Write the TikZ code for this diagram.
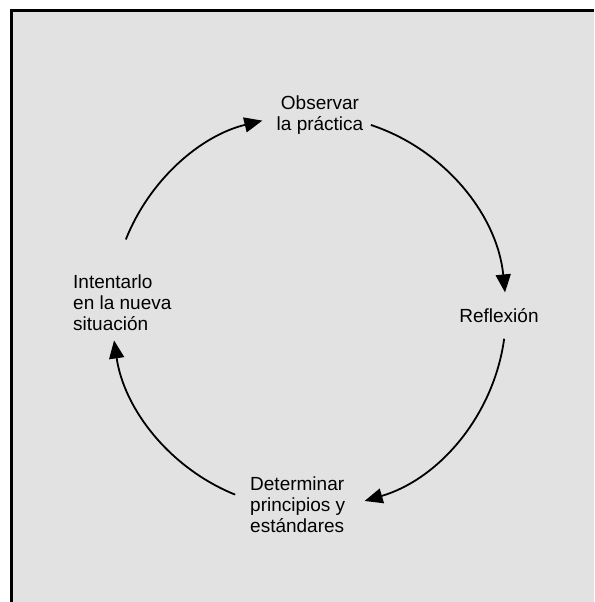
\documentclass[tikz,border=0pt]{standalone}
\usepackage{fontspec}
\setmainfont{Liberation Sans}
\usetikzlibrary{arrows.meta,calc}
\definecolor{bg}{HTML}{E2E2E2}
\begin{document}
\begin{tikzpicture}[x=1pt,y=1pt,
  lbl/.style={inner sep=0pt, font=\fontsize{19}{21}\selectfont},
  conn/.style={line width=1.8pt, -{Triangle[length=18pt,width=15pt]}}]
\useasboundingbox (0,0) rectangle (594,602);
\fill[white] (0,0) rectangle (594,602);
\fill[bg] (11.5,0) rectangle (594,591.5);
\draw[line width=3pt] (11.5,0) -- (11.5,591.5) -- (594,591.5);
\coordinate (c) at (309,290);
\node[lbl, align=center, anchor=base] (obs) at (320,471) {Observar\\la práctica};
\node[lbl, anchor=base] (ref) at (499,279) {Reflexión};
\node[lbl, align=left, anchor=base west] (det) at (250,69) {Determinar\\principios y\\estándares};
\node[lbl, align=left, anchor=base west] (int) at (73,271) {Intentarlo\\en la nueva\\situación};
\coordinate (s1) at ($(c)+(71.7:197)$);
\coordinate (s2) at ($(c)+(-7.8:197)$);
\coordinate (s3) at ($(c)+(-112:197)$);
\coordinate (s4) at ($(c)+(158.4:197)$);
\draw[conn] (s1) arc[start angle=71.7, end angle=5.7, radius=197];
\draw[conn] (s2) arc[start angle=-7.8, end angle=-73.6, radius=197];
\draw[conn] (s3) arc[start angle=-112, end angle=-171.7, radius=197];
\draw[conn] (s4) arc[start angle=158.4, end angle=103.7, radius=197];
\end{tikzpicture}
\end{document}
